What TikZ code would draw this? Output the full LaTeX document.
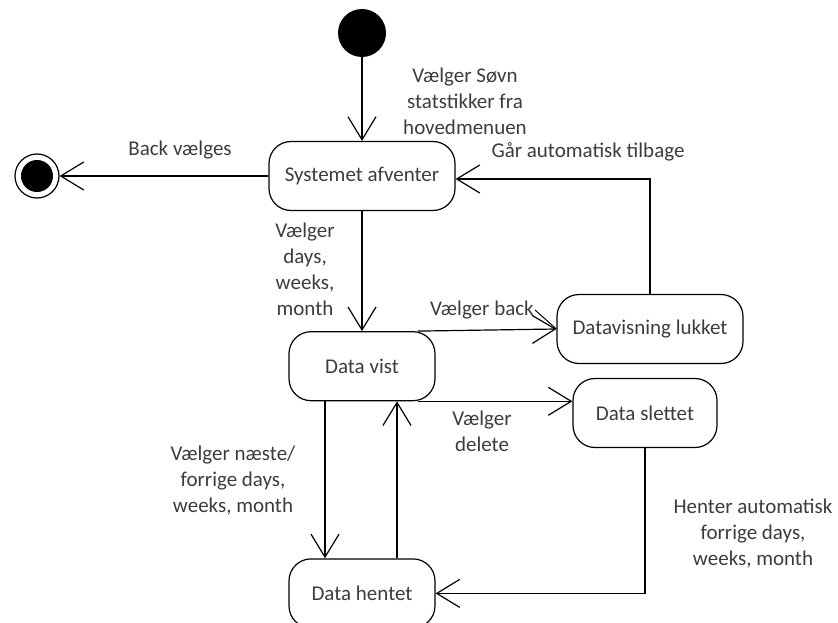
\documentclass[tikz,border=0pt]{standalone}
\usepackage{fontspec}
\setmainfont{Carlito}
\usetikzlibrary{positioning,arrows.meta,calc}
\definecolor{labelgray}{HTML}{3C3C3C}

\begin{document}
\begin{tikzpicture}[x=1pt, y=-1pt,
    stateBox/.style={rectangle, rounded corners=22pt, draw=black, line width=1.2pt, minimum width=#1, minimum height=69pt, inner sep=0pt, font=\fontsize{21}{26}\selectfont, text=labelgray},
    stateBox/.default=146pt,
    transLabel/.style={font=\fontsize{21}{26}\selectfont, text=labelgray, align=center, inner sep=1pt},
    arrowTrans/.style={-{Straight Barb[length=23pt, width=28pt, line width=1.2pt]}, line width=1.2pt}
]
    \useasboundingbox (0,0) rectangle (838,623);

    % start and end points
    \node[circle, fill=black, minimum size=48pt, inner sep=0pt] (init) at (362,33) {};
    \node[circle, draw=black, line width=1.2pt, fill=white, minimum size=44pt, inner sep=0pt,
          path picture={\fill[black] (path picture bounding box.center) circle (16pt);}] (final) at (37,176) {};

    % states
    \node[stateBox=186pt] (sys) at (362,176) {Systemet afventer};
    \node[stateBox, below=120pt of sys] (vist) {Data vist};
    \node[stateBox, below=157pt of vist] (hentet) {Data hentet};
    \node[stateBox=186pt] (lukket) at (650,329) {Datavisning lukket};
    \node[stateBox=144pt] (slettet) at (645,413) {Data slettet};

    % labels
    \node[transLabel] (soevnLbl) at (465,101) {Vælger Søvn\\statstikker fra\\hovedmenuen};
    \node[transLabel] (backLbl) at (180,150) {Back vælges};
    \node[transLabel] (tilbageLbl) at (588,152) {Går automatisk tilbage};
    \node[transLabel] (daysLbl) at (305,269) {Vælger\\days,\\weeks,\\month};
    \node[transLabel] (vBackLbl) at (482,310) {Vælger back};
    \node[transLabel] (deleteLbl) at (482,431) {Vælger\\delete};
    \node[transLabel] (naesteLbl) at (233,481) {Vælger næste/\\forrige days,\\weeks, month};
    \node[transLabel] (henterLbl) at (753,534) {Henter automatisk\\forrige days,\\weeks, month};

    % transitions
    \draw[arrowTrans] (init) -- (sys);
    \draw[arrowTrans] (sys) -- (final);
    \draw[arrowTrans] (sys) -- (vist);
    \draw[arrowTrans] ([xshift=-18pt]vist.north east) -- (lukket.west);
    \draw[line width=1pt] (vBackLbl.east) -- (lukket.west);
    \draw[arrowTrans] ([xshift=-18pt]vist.south east) -- (slettet.west |- vist.south);
    \draw[arrowTrans] (lukket.north) |- ([yshift=-3pt]sys.east);
    \draw[arrowTrans] ([xshift=-37pt]vist.south) -- ([xshift=-37pt]hentet.north);
    \draw[arrowTrans] ([xshift=35pt]hentet.north) -- ([xshift=35pt]vist.south);
    \draw[arrowTrans] (slettet.south) |- (hentet.east);
\end{tikzpicture}
\end{document}
